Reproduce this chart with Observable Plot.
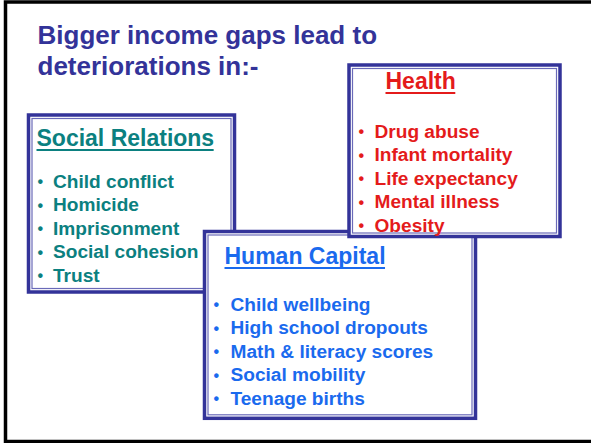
<!DOCTYPE html>
<html><head><meta charset="utf-8">
<script src="https://cdn.jsdelivr.net/npm/d3@7"></script>
<script src="https://cdn.jsdelivr.net/npm/@observablehq/plot@0.6"></script>
<style>
html,body{margin:0;padding:0;background:#fff;}
#chart svg{display:block;}
</style>
</head><body><div id="chart"></div>
<script>
// ---- content ----
const titleLines = ["Bigger income gaps lead to", "deteriorations in:-"];
const groups = ["Social Relations", "Human Capital", "Health"]; // drawing order (back to front)
const socialRelations = ["Child conflict", "Homicide", "Imprisonment", "Social cohesion", "Trust"];
const health = ["Drug abuse", "Infant mortality", "Life expectancy", "Mental illness", "Obesity"];
const humanCapital = ["Child wellbeing", "High school dropouts", "Math & literacy scores", "Social mobility", "Teenage births"];
const groupItems = {"Social Relations": socialRelations, "Health": health, "Human Capital": humanCapital};

// ---- layout & style (pixels) ----
const W = 591, H = 443;
const font = "'Liberation Sans', Arial, Helvetica, sans-serif";
const frame = {x1: 5.5, y1: 2, x2: 600, y2: 441.5};
const title = {x: 37, y: 43, step: 31, size: 26, color: "#333399"};
const layout = {
  "Social Relations": {box: {x1: 28.5, y1: 115, x2: 234.5, y2: 292}, hx: 36, hy: 145, bx: 37, tx: 52.5, y0: 187, color: "#0b8080"},
  "Health":           {box: {x1: 349, y1: 65, x2: 560, y2: 236.5}, hx: 385, hy: 88, bx: 358, tx: 374, y0: 137, color: "#e41b1b"},
  "Human Capital":    {box: {x1: 204.5, y1: 231.5, x2: 475.5, y2: 418.3}, hx: 224, hy: 263, bx: 213, tx: 230, y0: 310, color: "#1a6aee"}
};
const step = 23.6, headSize = 23, itemSize = 19.1;

// measure heading widths for underline
const ctx = document.createElement("canvas").getContext("2d");
ctx.font = `bold ${headSize}px ${font}`;
const headWidth = g => ctx.measureText(g).width;

const marks = [];
marks.push(Plot.rect([frame], {x1: "x1", y1: "y1", x2: "x2", y2: "y2", fill: "none", stroke: "#000", strokeWidth: 3.5}));
marks.push(Plot.text(titleLines.map((t, i) => ({t, y: title.y + i * title.step})), {
  x: () => title.x, y: "y", text: "t", textAnchor: "start", lineAnchor: "bottom",
  fontFamily: font, fontWeight: "bold", fontSize: title.size, fill: title.color
}));
for (const g of groups) {
  const L = layout[g];
  marks.push(Plot.rect([L.box], {x1: "x1", y1: "y1", x2: "x2", y2: "y2", fill: "#fff", stroke: "#333399", strokeWidth: 3.5}));
  marks.push(Plot.rect([L.box], {x1: "x1", y1: "y1", x2: "x2", y2: "y2", inset: 3.5, fill: "none", stroke: "#6a6ab8", strokeWidth: 1.2}));
  marks.push(Plot.text([g], {x: () => L.hx, y: () => L.hy, text: d => d, textAnchor: "start", lineAnchor: "bottom",
    fontFamily: font, fontWeight: "bold", fontSize: headSize, fill: L.color}));
  marks.push(Plot.ruleY([g], {x1: () => L.hx + 0.5, x2: d => L.hx + headWidth(d), y: () => L.hy + 4.5, stroke: L.color, strokeWidth: 2}));
  const items = groupItems[g].map((t, i) => ({t, y: L.y0 + i * step}));
  marks.push(Plot.text(items, {x: () => L.bx, y: "y", text: () => "•", textAnchor: "start", lineAnchor: "bottom", dy: -0.5,
    fontFamily: font, fontWeight: "bold", fontSize: 16, fill: L.color}));
  marks.push(Plot.text(items, {x: () => L.tx, y: "y", text: "t", textAnchor: "start", lineAnchor: "bottom",
    fontFamily: font, fontWeight: "bold", fontSize: itemSize, fill: L.color}));
}

const chart = Plot.plot({
  width: W, height: H, margin: 0,
  x: {domain: [0, W], range: [0, W], axis: null},
  y: {domain: [0, H], range: [0, H], axis: null},
  style: {background: "#fff", overflow: "hidden"},
  marks
});
document.getElementById("chart").append(chart);
</script>
</body></html>
